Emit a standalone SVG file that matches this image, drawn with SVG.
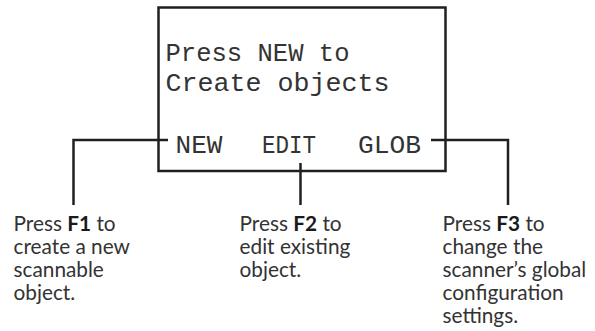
<svg xmlns="http://www.w3.org/2000/svg" width="595" height="331" viewBox="0 0 595 331">
<style>
.lcd{font-family:"Liberation Mono","DejaVu Sans Mono",monospace;font-size:25.5px;fill:#333}
.lbl{font-family:Lato,"Noto Sans",sans-serif;font-size:20.8px;fill:#333}
.lbl tspan.b{font-weight:bold;fill:#1a1a1a}
.ln{fill:none;stroke:#231f20;stroke-width:2.5}
</style>
<rect width="595" height="331" fill="#fff"/>
<g id="screen">
<rect class="ln" x="158.5" y="7.5" width="287" height="163.5"/>
<text class="lcd" x="165.5" y="61" textLength="184" lengthAdjust="spacingAndGlyphs">Press NEW to</text>
<text class="lcd" x="165.5" y="90.5" textLength="224" lengthAdjust="spacingAndGlyphs">Create objects</text>
<text class="lcd" x="175.5" y="152.5" textLength="47" lengthAdjust="spacingAndGlyphs">NEW</text>
<text class="lcd" x="262" y="152.5" textLength="54" lengthAdjust="spacingAndGlyphs">EDIT</text>
<text class="lcd" x="358" y="152.5" textLength="63" lengthAdjust="spacingAndGlyphs">GLOB</text>
</g>
<g id="connectors">
<polyline class="ln" points="168,140 73.5,140 73.5,205"/>
<polyline class="ln" points="300.5,163 300.5,205"/>
<polyline class="ln" points="431,140 508,140 508,205"/>
</g>
<g id="f1">
<text class="lbl" x="13.5" y="230.5">Press <tspan class="b">F1</tspan> to</text>
<text class="lbl" x="13.5" y="253.7">create a new</text>
<text class="lbl" x="13.5" y="276.9">scannable</text>
<text class="lbl" x="13.5" y="300.1">object.</text>
</g>
<g id="f2">
<text class="lbl" x="239.5" y="230.5">Press <tspan class="b">F2</tspan> to</text>
<text class="lbl" x="239.5" y="253.7">edit existing</text>
<text class="lbl" x="239.5" y="276.9">object.</text>
</g>
<g id="f3">
<text class="lbl" x="442.5" y="230.5">Press <tspan class="b">F3</tspan> to</text>
<text class="lbl" x="442.5" y="253.7">change the</text>
<text class="lbl" x="442.5" y="276.9">scanner’s global</text>
<text class="lbl" x="442.5" y="300.1">configuration</text>
<text class="lbl" x="442.5" y="323.3">settings.</text>
</g>
</svg>
